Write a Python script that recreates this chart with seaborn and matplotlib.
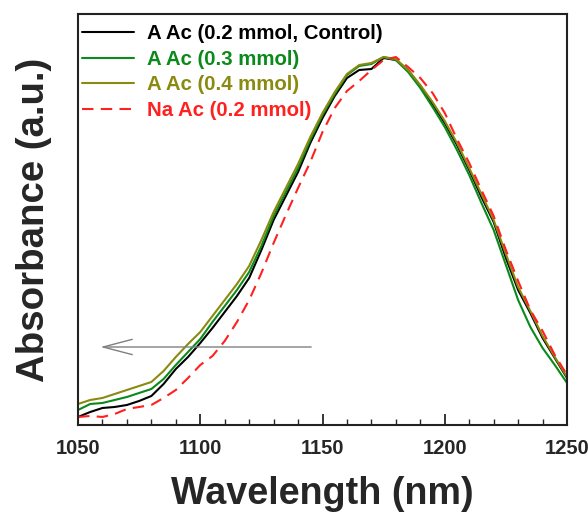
import numpy as np
import pandas as pd
import matplotlib
matplotlib.use("Agg")
import matplotlib.pyplot as plt
from matplotlib.ticker import MultipleLocator
import seaborn as sns

wavelength = list(range(1050, 1251, 5))

# values (arbitrary units, 0 = axis bottom)
px_black = [417, 412, 408, 407, 405, 401, 396, 384, 369, 357, 343, 328, 312, 296, 278,
            250, 220, 196, 172, 143, 118, 96, 78, 70, 69, 58, 60, 70, 86, 104,
            123, 145, 170, 197, 222, 258, 290, 313, 338, 358, 378]
px_green = [410, 404, 403, 400, 397, 393, 389, 379, 365, 352, 339, 322, 306, 290, 272,
            246, 216, 192, 168, 140, 115, 94, 75, 66, 64, 57, 60, 72, 88, 107,
            127, 150, 175, 203, 230, 265, 300, 327, 348, 365, 383]
px_olive = [404, 400, 398, 394, 390, 386, 382, 371, 357, 344, 332, 316, 300, 284, 266,
            240, 212, 188, 164, 137, 113, 92, 74, 65, 63, 57, 59, 70, 85, 102,
            121, 143, 168, 194, 220, 254, 287, 311, 336, 357, 377]
px_red = [417, 416, 417, 414, 409, 407, 405, 398, 390, 378, 365, 356, 341, 322, 300,
          273, 243, 215, 188, 162, 132, 108, 91, 81, 70, 60, 57, 67, 78, 93,
          113, 139, 163, 190, 216, 250, 281, 310, 331, 355, 375]

def to_abs(v):
    return [(425 - p) / 367.0 for p in v]

abs_black = to_abs(px_black)
abs_green = to_abs(px_green)
abs_olive = to_abs(px_olive)
abs_red = to_abs(px_red)

series_names = ["A Ac (0.2 mmol, Control)", "A Ac (0.3 mmol)", "A Ac (0.4 mmol)", "Na Ac (0.2 mmol)"]
series_colors = ["#000000", "#0a8a1a", "#8a8a10", "#ff2020"]

arrow_x = [1146.5, 1058.0]
arrow_y = 0.2125

frames = []
for name, vals in zip(series_names, [abs_black, abs_green, abs_olive, abs_red]):
    frames.append(pd.DataFrame({"Wavelength": wavelength, "Absorbance": vals, "Sample": name}))
df = pd.concat(frames, ignore_index=True)

sns.set_style("ticks")
plt.rcParams["font.family"] = ["Liberation Sans", "DejaVu Sans"]
plt.rcParams["font.weight"] = "bold"

fig = plt.figure(figsize=(5.88, 5.15), dpi=100)
ax = fig.add_axes([0.1327, 0.1748, 0.8316, 0.798])

sns.lineplot(data=df, x="Wavelength", y="Absorbance", hue="Sample", style="Sample",
             palette=dict(zip(series_names, series_colors)),
             dashes={series_names[0]: "", series_names[1]: "", series_names[2]: "",
                     series_names[3]: (5.5, 3.5)},
             linewidth=1.5, ax=ax, legend=True)

ax.annotate("", xy=(arrow_x[1], arrow_y), xytext=(arrow_x[0], arrow_y),
            arrowprops=dict(arrowstyle="->,head_length=2.1,head_width=0.55",
                            color="#808080", lw=1.0))

ax.set_xlim(1050, 1250)
ax.set_ylim(0, 411 / 367.0)
ax.xaxis.set_major_locator(MultipleLocator(50))
ax.xaxis.set_minor_locator(MultipleLocator(10))
ax.set_yticks([])
ax.tick_params(axis="x", which="major", direction="in", length=8, width=1.3,
               labelsize=14.5, pad=10)
ax.tick_params(axis="x", which="minor", direction="in", length=4, width=1.0)
for lab in ax.get_xticklabels():
    lab.set_fontweight("bold")
for sp in ax.spines.values():
    sp.set_linewidth(1.5)
    sp.set_color("#222222")
    sp.set_visible(True)

ax.set_xlabel("Wavelength (nm)", fontsize=27.2, fontweight="bold", labelpad=13)
ax.set_ylabel("Absorbance (a.u.)", fontsize=27.6, fontweight="bold", labelpad=18.5)

leg = ax.legend(loc="upper left", frameon=False, fontsize=14.7, handlelength=2.55,
                handletextpad=0.64, labelspacing=0.32, borderpad=0.0, borderaxespad=0.0,
                bbox_to_anchor=(0.008, 0.975))
for txt, col in zip(leg.get_texts(), series_colors):
    txt.set_color(col)
    txt.set_fontweight("bold")

fig.savefig("out.png", dpi=100)
